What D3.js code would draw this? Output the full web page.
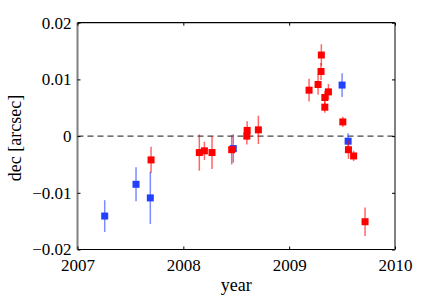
<!DOCTYPE html>
<html><head><meta charset="utf-8">
<script src="https://cdn.jsdelivr.net/npm/d3@7"></script>
<style>body{margin:0;background:#fff}svg{display:block}text{font-family:"Liberation Serif","DejaVu Serif",serif;}</style>
</head><body>
<svg id="c" width="436" height="298"></svg>
<script>
const blueYear = [2007.257, 2007.553, 2007.688, 2008.472, 2009.500, 2009.557];
const blueDec  = [-0.0141, -0.0085, -0.0109, -0.0022, 0.0090, -0.0009];
const blueErr  = [0.0028, 0.0030, 0.0046, 0.0025, 0.0021, 0.0014];

const redYear = [2007.695, 2008.151, 2008.199, 2008.271, 2008.457, 2008.600, 2008.603, 2008.709,
                 2009.188, 2009.273, 2009.301, 2009.304, 2009.337, 2009.337, 2009.371, 2009.507,
                 2009.560, 2009.609, 2009.717];
const redDec  = [-0.0042, -0.0029, -0.0026, -0.0029, -0.0024, 0.0000, 0.0010, 0.0011,
                 0.0081, 0.0091, 0.0114, 0.0143, 0.0068, 0.0051, 0.0078, 0.0025,
                 -0.0024, -0.0035, -0.0151];
const redErr  = [0.0023, 0.0032, 0.0016, 0.0029, 0.0026, 0.0015, 0.0016, 0.0025,
                 0.0020, 0.0018, 0.0015, 0.0019, 0.0012, 0.0010, 0.0014, 0.0009,
                 0.0016, 0.0009, 0.0025];

const xTicks = [2007, 2008, 2009, 2010];
const xTickLabels = ["2007", "2008", "2009", "2010"];
const yTicks = [0.02, 0.01, 0, -0.01, -0.02];
const yTickLabels = ["0.02", "0.01", "0", "\u22120.01", "\u22120.02"];
const xLabel = "year";
const yLabel = "dec [arcsec]";

const svg = d3.select("#c");
const L = 77.5, R = 395, T = 22.7, B = 249.5;
const x = d3.scaleLinear().domain([2007, 2010]).range([L, R]);
const y = d3.scaleLinear().domain([-0.02, 0.02]).range([B, T]);

// zero dashed line
svg.append("line").attr("x1", L).attr("x2", R).attr("y1", y(0)).attr("y2", y(0))
  .attr("stroke", "#444").attr("stroke-width", 1.2).attr("stroke-dasharray", "6,4");

function series(years, decs, errs, color) {
  const data = years.map((t, i) => ({t, v: decs[i], e: errs[i]}));
  const g = svg.append("g");
  g.selectAll("line").data(data).join("line")
    .attr("x1", d => x(d.t)).attr("x2", d => x(d.t))
    .attr("y1", d => y(d.v - d.e)).attr("y2", d => y(d.v + d.e))
    .attr("stroke", color).attr("stroke-width", 1.5).attr("stroke-opacity", 0.6);
  g.selectAll("rect").data(data).join("rect")
    .attr("x", d => x(d.t) - 3.5).attr("y", d => y(d.v) - 3.5)
    .attr("width", 7).attr("height", 7).attr("fill", color);
}
series(blueYear, blueDec, blueErr, "#2240ff");
series(redYear, redDec, redErr, "#ff0000");

// frame
svg.append("line").attr("x1", L).attr("x2", R).attr("y1", T).attr("y2", T).attr("stroke", "#000").attr("stroke-width", 1.2);
svg.append("line").attr("x1", L).attr("x2", R).attr("y1", B).attr("y2", B).attr("stroke", "#000").attr("stroke-width", 1.2);
svg.append("line").attr("x1", L).attr("x2", L).attr("y1", T).attr("y2", B).attr("stroke", "#808080").attr("stroke-width", 2);
svg.append("line").attr("x1", R).attr("x2", R).attr("y1", T).attr("y2", B).attr("stroke", "#808080").attr("stroke-width", 2);

// axes with inward ticks
const xb = svg.append("g").attr("transform", `translate(0,${B})`)
  .call(d3.axisBottom(x).tickValues(xTicks).tickFormat((d, i) => xTickLabels[i]).tickSizeInner(-3).tickSizeOuter(0).tickPadding(9));
const xt = svg.append("g").attr("transform", `translate(0,${T})`)
  .call(d3.axisTop(x).tickValues(xTicks).tickFormat("").tickSizeInner(-3).tickSizeOuter(0));
const yl = svg.append("g").attr("transform", `translate(${L},0)`)
  .call(d3.axisLeft(y).tickValues(yTicks).tickFormat((d, i) => yTickLabels[i]).tickSizeInner(-3).tickSizeOuter(0).tickPadding(6));
const yr = svg.append("g").attr("transform", `translate(${R},0)`)
  .call(d3.axisRight(y).tickValues(yTicks).tickFormat("").tickSizeInner(-3).tickSizeOuter(0));
[xb, xt, yl, yr].forEach(g => { g.select(".domain").remove(); g.selectAll(".tick line").attr("stroke", "#000"); });
xb.selectAll("text").attr("font-size", 17).attr("fill", "#000").attr("font-family", "Liberation Serif, DejaVu Serif, serif");
yl.selectAll("text").attr("font-size", 17).attr("fill", "#000").attr("font-family", "Liberation Serif, DejaVu Serif, serif");

svg.append("text").attr("x", (L + R) / 2).attr("y", 291).attr("text-anchor", "middle")
  .attr("font-size", 18).text(xLabel);
svg.append("text").attr("transform", `translate(21,138) rotate(-90)`).attr("text-anchor", "middle")
  .attr("font-size", 18).text(yLabel);
</script>
</body></html>
